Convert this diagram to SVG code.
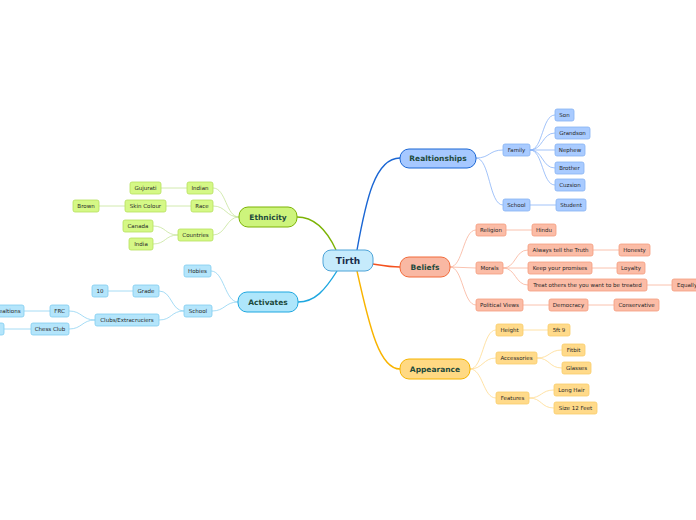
<svg xmlns="http://www.w3.org/2000/svg" width="696" height="520" viewBox="0 0 696 520">
<style>
text{font-family:"DejaVu Sans","Liberation Sans",sans-serif;text-anchor:middle}
.m{font-size:7.5px;font-weight:bold;fill:#1d4a3c}
.s{font-size:5.5px;fill:#262626}
.c path{fill:none}
.bl rect{fill:#a9cbff;stroke:#86b2f2;stroke-width:0.8}
.rd rect{fill:#fbbca6;stroke:#f59c7e;stroke-width:0.8}
.yl rect{fill:#ffda8a;stroke:#f9cd6b;stroke-width:0.8}
.gr rect{fill:#d5f886;stroke:#b6e05e;stroke-width:0.8}
.cy rect{fill:#b4e5fb;stroke:#80cdf0;stroke-width:0.8}
</style>
<rect width="696" height="520" fill="#fff"/>
<g class="c">
<g stroke-width="1.4">
<path d="M357,250 C366,200 375,158 400,158" stroke="#1a66d4"/>
<path d="M336,250 C325,226 312,217 297,217" stroke="#7cb305"/>
<path d="M373,264 C385,266 390,267 400,267" stroke="#f4511e"/>
<path d="M337,271 C325,290 315,302 298,302" stroke="#1ea7e0"/>
<path d="M357,271 C370,330 380,369 400,369" stroke="#f9b400"/>
</g>
<g stroke="#8ab4f8" stroke-width="0.8">
<path d="M476,158 C490,158 489,150 503,150"/>
<path d="M476,158 C490,158 489,205 503,205"/>
<path d="M530,150 C543,150 542,115 555,115"/>
<path d="M530,150 C543,150 542,133 555,133"/>
<path d="M530,150 L555,150"/>
<path d="M530,150 C543,150 542,168 555,168"/>
<path d="M530,150 C543,150 542,185 555,185"/>
<path d="M530,205 L556,205"/>
</g>
<g stroke="#f9b39b" stroke-width="0.8">
<path d="M450,267 C463,267 463,230 476,230"/>
<path d="M450,267 L476,268"/>
<path d="M450,267 C463,267 463,305 476,305"/>
<path d="M506,230 L532,230"/>
<path d="M503,268 C516,268 515,250 528,250"/>
<path d="M503,268 L528,268"/>
<path d="M503,268 C516,268 515,285 528,285"/>
<path d="M593,250 L619,250"/>
<path d="M592,268 L617,268"/>
<path d="M647,285 L672,285"/>
<path d="M523,305 L549,305"/>
<path d="M588,305 L614,305"/>
</g>
<g stroke="#ffdb8f" stroke-width="0.8">
<path d="M470,369 C483,369 483,330 496,330"/>
<path d="M470,369 C483,369 483,358 496,358"/>
<path d="M470,369 C483,369 483,398 496,398"/>
<path d="M523,330 L548,330"/>
<path d="M537,358 C550,358 549,350 562,350"/>
<path d="M537,358 C550,358 549,368 562,368"/>
<path d="M529,398 C542,398 541,390 554,390"/>
<path d="M529,398 C542,398 541,408 554,408"/>
</g>
<g stroke="#c6e49a" stroke-width="0.8">
<path d="M239,217 C226,217 226,188 213,188"/>
<path d="M239,217 C226,217 226,206 213,206"/>
<path d="M239,217 C226,217 226,235 213,235"/>
<path d="M187,188 L161,188"/>
<path d="M191,206 L166,206"/>
<path d="M125,206 L99,206"/>
<path d="M178,235 C165,235 166,226 153,226"/>
<path d="M178,235 C165,235 166,244 153,244"/>
</g>
<g stroke="#8fd3f2" stroke-width="0.8">
<path d="M238,302 C225,302 224,271 211,271"/>
<path d="M238,302 C225,302 225,311 212,311"/>
<path d="M184,311 C171,311 172,291 159,291"/>
<path d="M184,311 C171,311 172,320 159,320"/>
<path d="M133,291 L108,291"/>
<path d="M95,320 C82,320 82,311 69,311"/>
<path d="M95,320 C82,320 82,329 69,329"/>
<path d="M50,311 L24,311"/>
<path d="M31,329 L4,329"/>
</g>
</g>
<g id="tirth"><rect x="323" y="250" width="50" height="21" rx="8" fill="#c6ebfc" stroke="#4ea4d8" stroke-width="1"/><text x="348" y="263.5" font-size="9" font-weight="bold" fill="#1a2b49">Tirth</text></g>
<g id="realtionships"><rect x="400" y="149" width="76" height="19" rx="9" fill="#a6c8ff" stroke="#1a66d4" stroke-width="1"/><text class="m" x="438" y="161">Realtionships</text></g>
<g id="beliefs"><rect x="400" y="257" width="50" height="20" rx="9" fill="#f9b8a3" stroke="#f26b3a" stroke-width="1"/><text class="m" x="425" y="270">Beliefs</text></g>
<g id="appearance"><rect x="400" y="359" width="70" height="20" rx="9" fill="#ffd983" stroke="#f6b400" stroke-width="1"/><text class="m" x="435" y="372">Appearance</text></g>
<g id="ethnicity"><rect x="239" y="207" width="58" height="20" rx="9" fill="#cdf47c" stroke="#7cb305" stroke-width="1"/><text class="m" x="268" y="220">Ethnicity</text></g>
<g id="activates"><rect x="238" y="292" width="60" height="20" rx="9" fill="#aee6fb" stroke="#1ea7e0" stroke-width="1"/><text class="m" x="268" y="305">Activates</text></g>
<g class="bl">
<g id="family"><rect x="503" y="144" width="27" height="12" rx="2"/><text class="s" x="516.5" y="151.9">Family</text></g>
<g id="son"><rect x="555" y="109" width="19" height="12" rx="2"/><text class="s" x="564.5" y="116.9">Son</text></g>
<g id="grandson"><rect x="555" y="127" width="35" height="12" rx="2"/><text class="s" x="572.5" y="134.9">Grandson</text></g>
<g id="nephew"><rect x="555" y="144" width="30" height="12" rx="2"/><text class="s" x="570" y="151.9">Nephew</text></g>
<g id="brother"><rect x="555" y="162" width="29" height="12" rx="2"/><text class="s" x="569.5" y="169.9">Brother</text></g>
<g id="cuzsion"><rect x="555" y="179" width="30" height="12" rx="2"/><text class="s" x="570" y="186.9">Cuzsion</text></g>
<g id="school-r"><rect x="503" y="199" width="27" height="12" rx="2"/><text class="s" x="516.5" y="206.9">School</text></g>
<g id="student"><rect x="556" y="199" width="30" height="12" rx="2"/><text class="s" x="571" y="206.9">Student</text></g>
</g>
<g class="rd">
<g id="religion"><rect x="476" y="224" width="30" height="12" rx="2"/><text class="s" x="491" y="231.9">Religion</text></g>
<g id="hindu"><rect x="532" y="224" width="24" height="12" rx="2"/><text class="s" x="544" y="231.9">Hindu</text></g>
<g id="morals"><rect x="476" y="262" width="27" height="12" rx="2"/><text class="s" x="489.5" y="269.9">Morals</text></g>
<g id="always"><rect x="528" y="244" width="65" height="12" rx="2"/><text class="s" x="560.5" y="251.9">Always tell the Truth</text></g>
<g id="honesty"><rect x="619" y="244" width="31" height="12" rx="2"/><text class="s" x="634.5" y="251.9">Honesty</text></g>
<g id="keep"><rect x="528" y="262" width="64" height="12" rx="2"/><text class="s" x="560" y="269.9">Keep your promises</text></g>
<g id="loyalty"><rect x="617" y="262" width="28" height="12" rx="2"/><text class="s" x="631" y="269.9">Loyalty</text></g>
<g id="treat"><rect x="528" y="279" width="119" height="12" rx="2"/><text class="s" x="587.5" y="286.9">Treat others the you want to be treated</text></g>
<g id="equally"><rect x="672" y="279" width="32" height="12" rx="2"/><text class="s" x="677" y="286.9" style="text-anchor:start">Equally</text></g>
<g id="political"><rect x="476" y="299" width="47" height="12" rx="2"/><text class="s" x="499.5" y="306.9">Political Views</text></g>
<g id="democracy"><rect x="549" y="299" width="39" height="12" rx="2"/><text class="s" x="568.5" y="306.9">Democracy</text></g>
<g id="conservative"><rect x="614" y="299" width="45" height="12" rx="2"/><text class="s" x="636.5" y="306.9">Conservative</text></g>
</g>
<g class="yl">
<g id="height"><rect x="496" y="324" width="27" height="12" rx="2"/><text class="s" x="509.5" y="331.9">Height</text></g>
<g id="ft"><rect x="548" y="324" width="22" height="12" rx="2"/><text class="s" x="559" y="331.9">5ft 9</text></g>
<g id="accessories"><rect x="496" y="352" width="41" height="12" rx="2"/><text class="s" x="516.5" y="359.9">Accessories</text></g>
<g id="fitbit"><rect x="562" y="344" width="23" height="12" rx="2"/><text class="s" x="573.5" y="351.9">Fitbit</text></g>
<g id="glasses"><rect x="562" y="362" width="29" height="12" rx="2"/><text class="s" x="576.5" y="369.9">Glasses</text></g>
<g id="features"><rect x="496" y="392" width="33" height="12" rx="2"/><text class="s" x="512.5" y="399.9">Features</text></g>
<g id="longhair"><rect x="554" y="384" width="35" height="12" rx="2"/><text class="s" x="571.5" y="391.9">Long Hair</text></g>
<g id="size"><rect x="554" y="402" width="43" height="12" rx="2"/><text class="s" x="575.5" y="409.9">Size 12 Feet</text></g>
</g>
<g class="gr">
<g id="indian"><rect x="187" y="182" width="26" height="12" rx="2"/><text class="s" x="200" y="189.9">Indian</text></g>
<g id="gujurati"><rect x="130" y="182" width="31" height="12" rx="2"/><text class="s" x="145.5" y="189.9">Gujurati</text></g>
<g id="race"><rect x="191" y="200" width="22" height="12" rx="2"/><text class="s" x="202" y="207.9">Race</text></g>
<g id="skin"><rect x="125" y="200" width="41" height="12" rx="2"/><text class="s" x="145.5" y="207.9">Skin Colour</text></g>
<g id="brown"><rect x="73" y="200" width="26" height="12" rx="2"/><text class="s" x="86" y="207.9">Brown</text></g>
<g id="countries"><rect x="178" y="229" width="35" height="12" rx="2"/><text class="s" x="195.5" y="236.9">Countries</text></g>
<g id="canada"><rect x="123" y="220" width="30" height="12" rx="2"/><text class="s" x="138" y="227.9">Canada</text></g>
<g id="india"><rect x="129" y="238" width="24" height="12" rx="2"/><text class="s" x="141" y="245.9">India</text></g>
</g>
<g class="cy">
<g id="hobies"><rect x="184" y="265" width="27" height="12" rx="2"/><text class="s" x="197.5" y="272.9">Hobies</text></g>
<g id="school-a"><rect x="184" y="305" width="28" height="12" rx="2"/><text class="s" x="198" y="312.9">School</text></g>
<g id="grade"><rect x="133" y="285" width="26" height="12" rx="2"/><text class="s" x="146" y="292.9">Grade</text></g>
<g id="ten"><rect x="92" y="285" width="16" height="12" rx="2"/><text class="s" x="100" y="292.9">10</text></g>
<g id="clubs"><rect x="95" y="314" width="64" height="12" rx="2"/><text class="s" x="127" y="321.9">Clubs/Extracruciers</text></g>
<g id="frc"><rect x="50" y="305" width="19" height="12" rx="2"/><text class="s" x="59.5" y="312.9">FRC</text></g>
<g id="ealtions"><rect x="-10" y="305" width="34" height="12" rx="2"/><text class="s" x="20.5" y="312.9" style="text-anchor:end">ealtions</text></g>
<g id="chess"><rect x="31" y="323" width="38" height="12" rx="2"/><text class="s" x="50" y="330.9">Chess Club</text></g>
<g id="leftnode"><rect x="-20" y="323" width="24" height="12" rx="2"/></g>
</g>
</svg>
